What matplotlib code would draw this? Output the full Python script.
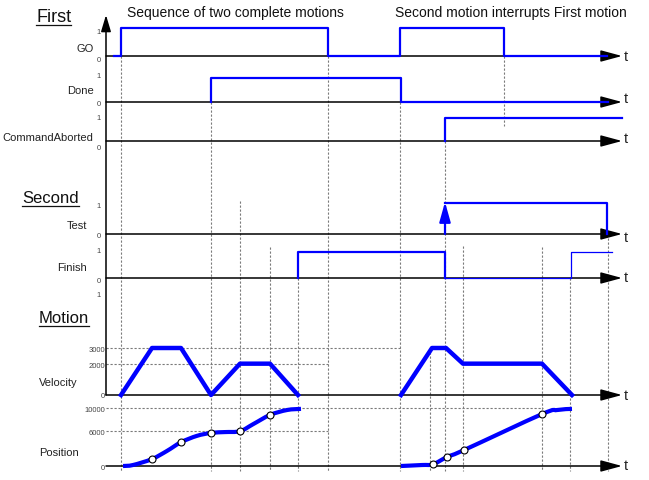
import numpy as np
import matplotlib
matplotlib.use("Agg")
import matplotlib.pyplot as plt
from matplotlib.path import Path
from matplotlib.patches import PathPatch

plt.rcParams['font.family'] = ['Liberation Sans', 'DejaVu Sans']

# ---- signal data (time in ms from the time origin) ----
go_t = [8, 15, 222, 294, 398, 501]
go_v = [0, 1, 0, 1, 0, 0]
done_t = [105, 105, 295, 502]
done_v = [0, 1, 0, 0]
abort_t = [339, 339, 516]
abort_v = [0, 1, 1]
test_t = [339, 501, 501]
test_v = [1, 1, 0]
finish_t = [192, 192, 339, 339]
finish_v = [0, 1, 1, 0]
finish2_t = [339, 465, 465, 506]
finish2_v = [0, 0, 1, 1]

vel1_t = [15, 46, 75, 105, 134, 164, 192]
vel1_v = [0, 3000, 3000, 0, 2000, 2000, 0]
vel2_t = [295, 326, 340, 357, 436, 466]
vel2_v = [0, 3000, 3000, 2000, 2000, 0]

pos1_t = [17, 27, 46, 61, 75, 91, 105, 119, 134, 147, 164, 181, 195]
pos1_v = [0, 170, 1200, 2600, 4100, 5200, 5700, 5850, 6000, 7200, 8800, 9650, 9850]
pos1_marks = [46, 75, 105, 134, 164]
pos2_t = [295, 316, 327, 341, 358, 436, 451, 466]
pos2_v = [0, 170, 300, 1550, 2750, 8950, 9650, 9850]
pos2_marks = [327, 341, 358, 436]

vel_ticks = [3000, 2000, 0]
pos_ticks = [10000, 6000, 0]

# ---- layout (pixel rows) ----
rows = {'GO': (57, 29), 'Done': (103, 79), 'CommandAborted': (142, 119),
        'Test': (235, 204), 'Finish': (279, 253)}
vel_base, vel_scale = 396, 47 / 3000
pos_base, pos_scale = 467, 58 / 10000
t_end = 516
dash_bottom = 472
BLUE = '#0000ff'


def row_y(name, v):
    base, high = rows[name]
    return [base - x * (base - high) for x in v]


def vel_y(v):
    return [vel_base - x * vel_scale for x in v]


def pos_y(v):
    return [pos_base - x * pos_scale for x in v]


def smooth_path(xs, ys):
    pts = np.column_stack([xs, ys]).astype(float)
    n = len(pts)
    verts = [pts[0]]
    codes = [Path.MOVETO]
    for i in range(n - 1):
        p0 = pts[max(i - 1, 0)]
        p1 = pts[i]
        p2 = pts[i + 1]
        p3 = pts[min(i + 2, n - 1)]
        verts += [p1 + (p2 - p0) / 6, p2 - (p3 - p1) / 6, p2]
        codes += [Path.CURVE4] * 3
    return Path(verts, codes)


fig = plt.figure(figsize=(6.49, 4.81), dpi=100)
ax = fig.add_axes([0, 0, 1, 1])
ax.set_xlim(-106, 543)
ax.set_ylim(481, 0)
ax.axis('off')

dash_kw = dict(color='#7a7a7a', lw=0.8, ls=(0, (2, 1.6)), zorder=1)

# vertical dashed guides (time, top pixel)
dash_v = [(15, 57), (105, 103), (134, 202), (164, 248), (192, 279), (222, 57),
          (294, 103), (324, 349), (339, 142), (357, 247), (436, 248),
          (464, 279), (502, 235)]
for t, top in dash_v:
    ax.plot([t, t], [top, dash_bottom], **dash_kw)
ax.plot([398, 398], [57, 127], **dash_kw)

# horizontal dashed guides
ax.plot([0, 296], vel_y([3000, 3000]), **dash_kw)
ax.plot([0, 222], vel_y([2000, 2000]), **dash_kw)
ax.plot([0, 437], pos_y([10000, 10000]), **dash_kw)
ax.plot([0, 222], pos_y([6000, 6000]), **dash_kw)

# baselines with arrows
arrow_kw = dict(arrowstyle='-|>,head_length=1.0,head_width=0.27', color='black',
                lw=1.1, mutation_scale=13, shrinkA=0, shrinkB=0)
bases = [rows[k][0] for k in rows] + [vel_base, pos_base]
t_label_y = [57, 99, 139, 238, 278, 396, 466]
for b, ty in zip(bases, t_label_y):
    ax.annotate('', xy=(t_end, b), xytext=(0, b), arrowprops=arrow_kw, zorder=3)
    ax.text(518, ty, 't', fontsize=10.5, va='center', ha='left', color='#222')

# vertical axis
ax.annotate('', xy=(0, 16), xytext=(0, vel_base),
            arrowprops=dict(arrowstyle='-|>,head_length=1.0,head_width=0.3',
                            color='black', lw=1.1, mutation_scale=10,
                            shrinkA=0, shrinkB=0), zorder=3)

# logic signals
sig_kw = dict(color=BLUE, lw=1.6, where='post', zorder=4)
ax.step(go_t, row_y('GO', go_v), **sig_kw)
ax.step(done_t, row_y('Done', done_v), **sig_kw)
ax.step(abort_t, row_y('CommandAborted', abort_v), **sig_kw)
ax.step(test_t, row_y('Test', test_v), **sig_kw)
ax.step(finish_t, row_y('Finish', finish_v), **sig_kw)
ax.step(finish2_t, row_y('Finish', finish2_v), color=BLUE, lw=0.9, where='post', zorder=4)
ax.annotate('', xy=(test_t[0], rows['Test'][1] - 1), xytext=(test_t[0], rows['Test'][0]),
            arrowprops=dict(arrowstyle='-|>,head_length=1.0,head_width=0.28',
                            color=BLUE, lw=1.6, mutation_scale=12,
                            shrinkA=0, shrinkB=0), zorder=5)

# velocity
ax.plot(vel1_t, vel_y(vel1_v), color=BLUE, lw=3.2, zorder=4)
ax.plot(vel2_t, vel_y(vel2_v), color=BLUE, lw=3.2, zorder=4)

# position
for pt, pv, marks in [(pos1_t, pos1_v, pos1_marks), (pos2_t, pos2_v, pos2_marks)]:
    ax.add_patch(PathPatch(smooth_path(pt, pos_y(pv)), fill=False,
                           edgecolor=BLUE, lw=3.0, zorder=4))
    mv = [pv[pt.index(m)] for m in marks]
    ax.plot(marks, pos_y(mv), 'o', ms=5, mfc='white', mec='black', mew=0.8, zorder=6)

# row labels
lab_kw = dict(fontsize=8, color='#222', va='center')
ax.text(-12, 49, 'GO', ha='right', **lab_kw)
ax.text(-12, 91, 'Done', ha='right', **lab_kw)
ax.text(-13, 138, 'CommandAborted', ha='right', **lab_kw)
ax.text(-19, 226, 'Test', ha='right', **lab_kw)
ax.text(-19, 268, 'Finish', ha='right', **lab_kw)
ax.text(-67, 383, 'Velocity', ha='left', **lab_kw)
ax.text(-67, 453, 'Position', ha='left', **lab_kw)

# small tick labels
tick_kw = dict(fontsize=5.5, color='#444', va='center', ha='center')
one_zero = [(33, '1'), (61, '0'), (76, '1'), (104, '0'), (118, '1'), (149, '0'),
            (207, '1'), (237, '0'), (252, '1'), (282, '0'), (296, '1')]
for y, s in one_zero:
    ax.text(-7, y, s, **tick_kw)
for v, y in zip(vel_ticks, [351, 367, 397]):
    ax.text(-1, y, str(v), fontsize=5.5, color='#444', va='center', ha='right')
for v, y in zip(pos_ticks, [411, 434, 469]):
    ax.text(-1, y, str(v), fontsize=5.5, color='#444', va='center', ha='right')

# headings
ax.text(21, 13, 'Sequence of two complete motions', fontsize=10, va='center', color='#111')
ax.text(289, 13, 'Second motion interrupts First motion', fontsize=10, va='center', color='#111')

titles = [ax.text(-70, 17, 'First', fontsize=13, va='center', color='#111'),
          ax.text(-84, 199, 'Second', fontsize=12, va='center', color='#111'),
          ax.text(-67, 319, 'Motion', fontsize=12, va='center', color='#111')]
fig.canvas.draw()
inv = ax.transData.inverted()
for txt in titles:
    bb = txt.get_window_extent()
    (x0, y0), (x1, y1) = inv.transform([(bb.x0, bb.y0), (bb.x1, bb.y0)])
    ax.plot([x0, x1], [y0 + 0.5, y1 + 0.5], color='#111', lw=0.9)

fig.savefig('out.png', dpi=100)
